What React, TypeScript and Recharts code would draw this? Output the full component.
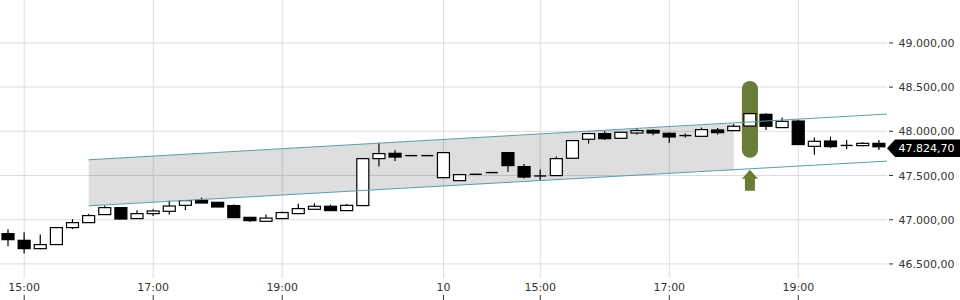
import React from 'react';
import {
  ComposedChart,
  Bar,
  Area,
  XAxis,
  YAxis,
  ReferenceLine,
  ReferenceArea,
  ReferenceDot,
} from 'recharts';

// ---- data ----
const opens = [
  46843, 46767, 46673, 46719, 46911, 46967, 47058, 47137, 47013, 47069,
  47095, 47163, 47220, 47197, 47160, 47027, 46982, 47013, 47069, 47118,
  47152, 47103, 47160, 47691, 47751, 47725, 47725, 47476, 47442, 47514,
  47533, 47759, 47601, 47495, 47499, 47695, 47910, 47974, 47921, 47981,
  48011, 47977, 47950, 47943, 48015, 48008, 48060, 48192, 48042, 48116,
  47830, 47890, 47838, 47838, 47864,
];
const highs = [
  46892, 46858, 46832, 46911, 47006, 47065, 47160, 47137, 47107, 47118,
  47216, 47216, 47250, 47197, 47171, 47027, 47058, 47092, 47182, 47186,
  47171, 47178, 47691, 47872, 47785, 47725, 47725, 47759, 47510, 47514,
  47533, 47759, 47630, 47567, 47714, 47895, 47985, 48000, 47989, 48031,
  48023, 47989, 47974, 48042, 48037, 48083, 48200, 48204, 48155, 48132,
  47929, 47940, 47902, 47876, 47902,
];
const lows = [
  46699, 46617, 46665, 46719, 46895, 46967, 47058, 47008, 47013, 47042,
  47058, 47110, 47189, 47144, 47024, 46974, 46982, 47013, 47069, 47118,
  47103, 47103, 47160, 47601, 47664, 47725, 47725, 47476, 47442, 47514,
  47533, 47540, 47465, 47446, 47499, 47695, 47861, 47902, 47921, 47963,
  47955, 47868, 47929, 47943, 47963, 48008, 48060, 48015, 48042, 47850,
  47736, 47811, 47796, 47830, 47789,
];
const closes = [
  46775, 46673, 46719, 46911, 46967, 47047, 47137, 47008, 47069, 47099,
  47155, 47216, 47189, 47144, 47024, 46990, 47019, 47081, 47126, 47152,
  47103, 47163, 47691, 47748, 47709, 47725, 47725, 47759, 47510, 47514,
  47533, 47612, 47483, 47495, 47691, 47895, 47974, 47917, 47989, 48008,
  47981, 47936, 47952, 48019, 47985, 48057, 48200, 48057, 48113, 47850,
  47887, 47827, 47840, 47864, 47824.7,
];

const xTickIndex = [1, 9, 17, 27, 33, 41, 49];
const xTickLabels = ['15:00', '17:00', '19:00', '10', '15:00', '17:00', '19:00'];
const yTicks = [46500, 47000, 47500, 48000, 48500, 49000];

// trend channel
const channelX = [5, 54.5];
const channelUpper = [47678, 48195];
const channelLower = [47157, 47663];
const channelFillX = [5, 45];
const channelFillUpper = [47678, 48092];
const channelFillLower = [47157, 47566];

// highlight
const highlightIndex = 46;
const highlightRange = [47700, 48570];
const arrowTipValue = 47565;
const lastPrice = 47824.7;

const data = opens.map((o, i) => {
  const row: any = {
    i,
    open: o,
    high: highs[i],
    low: lows[i],
    close: closes[i],
    range: [lows[i], highs[i]],
  };
  const fi = channelFillX.indexOf(i);
  if (fi >= 0) row.band = [channelFillLower[fi], channelFillUpper[fi]];
  return row;
});

const FONT = 'DejaVu Sans';
const TEXT = '#333';
const GRID = '#dcdcdc';

const fmt = (v: number) => {
  const fixed = v.toFixed(2);
  const [intPart, dec] = fixed.split('.');
  const withDots = intPart.replace(/\B(?=(\d{3})+(?!\d))/g, '.');
  return `${withDots},${dec}`;
};

const Candle = (props: any) => {
  const { x, y, width, height, payload } = props;
  if (x == null || y == null) return null;
  const { open, close, high, low } = payload;
  const cx = x + width / 2;
  const top = Math.min(y, y + height);
  const h = Math.abs(height);
  const half = 6;
  if (high === low || h === 0) {
    return (
      <line x1={cx - half} x2={cx + half} y1={top} y2={top} stroke="#000" strokeWidth={1.4} />
    );
  }
  const ratio = h / (high - low);
  const yOf = (v: number) => top + (high - v) * ratio;
  const bTop = yOf(Math.max(open, close));
  const bBot = yOf(Math.min(open, close));
  const up = close >= open;
  return (
    <g>
      <line x1={cx} x2={cx} y1={yOf(high)} y2={yOf(low)} stroke="#000" strokeWidth={1.2} />
      {bBot - bTop < 1.2 ? (
        <line x1={cx - half} x2={cx + half} y1={bTop} y2={bTop} stroke="#000" strokeWidth={1.4} />
      ) : (
        <rect
          x={cx - half}
          y={bTop}
          width={half * 2}
          height={bBot - bTop}
          fill={up ? '#fff' : '#000'}
          stroke="#000"
          strokeWidth={1.2}
        />
      )}
    </g>
  );
};

const XTick = (props: any) => {
  const { x, y, payload } = props;
  const idx = xTickIndex.indexOf(payload.value);
  const label = idx >= 0 ? xTickLabels[idx] : '';
  return (
    <g>
      <text x={x} y={y + 13} textAnchor="middle" fontSize={11} fontFamily={FONT} fill={TEXT}>
        {label}
      </text>
      <line x1={x} x2={x} y1={y + 17} y2={y + 22} stroke={TEXT} strokeWidth={1} />
    </g>
  );
};

const YTick = (props: any) => {
  const { x, y, payload } = props;
  return (
    <g>
      <line x1={x + 2} x2={x + 6} y1={y} y2={y} stroke={TEXT} strokeWidth={1} />
      <text x={x + 11.5} y={y} dy={4} textAnchor="start" fontSize={11} fontFamily={FONT} fill={TEXT}>
        {fmt(payload.value)}
      </text>
    </g>
  );
};

const PriceTag = (props: any) => {
  const { cx, cy } = props;
  if (cx == null || cy == null) return null;
  const c = cy + 1.5;
  const pts = `${cx},${c} ${cx + 8},${c - 8.7} ${cx + 80},${c - 8.7} ${cx + 80},${c + 8.7} ${cx + 8},${c + 8.7}`;
  return (
    <g>
      <polygon points={pts} fill="#000" />
      <text x={cx + 11.5} y={c} dy={4} fontSize={11} fontFamily={FONT} fill="#fff">
        {fmt(lastPrice)}
      </text>
    </g>
  );
};

const Arrow = (props: any) => {
  const { cx, cy } = props;
  if (cx == null || cy == null) return null;
  const pts = `${cx},${cy} ${cx + 8},${cy + 9} ${cx + 5},${cy + 9} ${cx + 5},${cy + 21} ${cx - 5},${cy + 21} ${cx - 5},${cy + 9} ${cx - 8},${cy + 9}`;
  return <polygon points={pts} fill="#6a7d38" />;
};

const Highlight = (props: any) => {
  const { x, y, width, height } = props;
  return <rect x={x} y={y} width={width} height={height} rx={8} ry={8} fill="#6a7d38" />;
};

const VGrid = (props: any) => {
  const { x, y, height } = props;
  if (x == null) return null;
  return <line x1={x} x2={x} y1={y} y2={y + height} stroke={GRID} strokeWidth={1} />;
};
const HGrid = (props: any) => {
  const { x, y, width } = props;
  if (y == null) return null;
  return <line x1={x} x2={x + width} y1={y} y2={y} stroke={GRID} strokeWidth={1} />;
};

export default function App() {
  return (
    <div style={{ position: 'absolute', left: 0, top: 0, width: 960, height: 300 }}>
      <ComposedChart
        width={960}
        height={300}
        data={data}
        margin={{ top: 0, right: 0, bottom: 0, left: 0 }}
        style={{ fontFamily: FONT }}
      >
        <XAxis
          dataKey="i"
          type="number"
          domain={[-0.5, 54.5]}
          ticks={xTickIndex}
          interval={0}
          height={22}
          axisLine={false}
          tickLine={false}
          tickSize={0}
          tickMargin={0}
          tick={<XTick />}
          allowDataOverflow
        />
        <YAxis
          orientation="right"
          width={73}
          domain={[46341, 49485]}
          ticks={yTicks}
          interval={0}
          axisLine={false}
          tickLine={false}
          tickSize={0}
          tickMargin={0}
          tick={<YTick />}
          allowDataOverflow
        />
        {xTickIndex.map((t) => (
          <ReferenceArea key={`vx${t}`} x1={t} x2={t} shape={<VGrid />} ifOverflow="visible" />
        ))}
        {yTicks.map((t) => (
          <ReferenceArea key={`hy${t}`} y1={t} y2={t} shape={<HGrid />} ifOverflow="visible" />
        ))}
        <Area
          dataKey="band"
          type="linear"
          connectNulls
          stroke="none"
          fill="#000"
          fillOpacity={0.13}
          isAnimationActive={false}
          dot={false}
          activeDot={false}
        />
        <ReferenceLine
          segment={[
            { x: channelX[0], y: channelUpper[0] },
            { x: channelX[1], y: channelUpper[1] },
          ]}
          stroke="#5a9ea0"
          strokeWidth={1}
          ifOverflow="visible"
        />
        <ReferenceLine
          segment={[
            { x: channelX[0], y: channelLower[0] },
            { x: channelX[1], y: channelLower[1] },
          ]}
          stroke="#5a9ea0"
          strokeWidth={1}
          ifOverflow="visible"
        />
        <ReferenceArea
          x1={highlightIndex - 0.5}
          x2={highlightIndex + 0.5}
          y1={highlightRange[0]}
          y2={highlightRange[1]}
          shape={<Highlight />}
          ifOverflow="visible"
        />
        <ReferenceDot
          x={highlightIndex}
          y={arrowTipValue}
          shape={<Arrow />}
          ifOverflow="visible"
        />
        <Bar dataKey="range" barSize={12} shape={<Candle />} isAnimationActive={false} />
        <ReferenceDot x={54.5} y={lastPrice} shape={<PriceTag />} ifOverflow="visible" />
      </ComposedChart>
    </div>
  );
}
